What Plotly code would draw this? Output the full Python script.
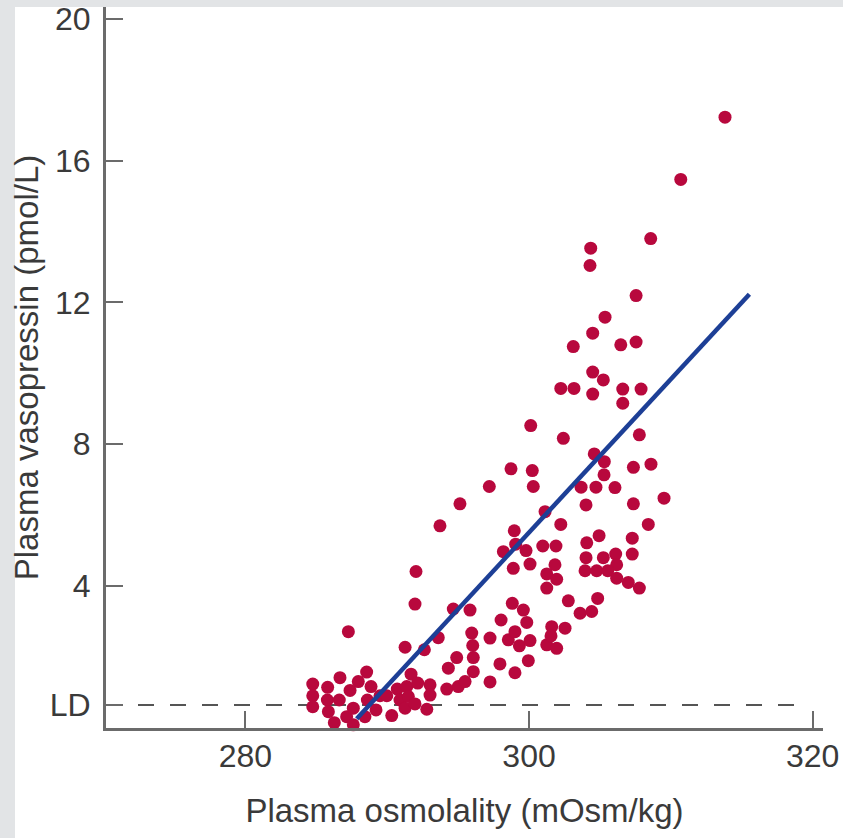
import plotly.graph_objects as go

# Plasma osmolality (mOsm/kg) and plasma vasopressin (pmol/L)
osmolality = [
    284.75, 284.75, 284.75, 285.80, 285.78, 285.85, 286.27, 286.62, 286.67, 287.14,
    287.38, 287.61, 287.61, 287.96, 288.43, 288.55, 288.60, 288.86, 289.21, 289.49,
    289.97, 290.32, 290.71, 290.90, 291.26, 291.38, 291.49, 291.68, 291.96, 292.15,
    292.79, 293.02, 293.02, 287.26, 291.26, 292.62, 291.96, 292.03, 293.72, 295.13,
    297.20, 293.60, 294.31, 294.20, 295.01, 295.49, 294.90, 294.66, 295.84, 295.96,
    296.03, 296.07, 296.07, 297.25, 297.25, 297.95, 298.03, 298.54, 298.82, 299.01,
    299.01, 299.32, 299.60, 299.84, 299.95, 300.07, 301.25, 301.60, 301.95, 304.02,
    307.36, 301.13, 298.96, 302.24, 308.41, 304.94, 307.28, 304.07, 298.19, 299.06,
    299.79, 300.97, 301.90, 304.02, 305.24, 306.11, 307.28, 298.89, 300.07, 301.83,
    306.18, 303.95, 304.77, 305.55, 301.25, 301.95, 306.18, 307.00, 307.78, 301.25,
    302.77, 304.84, 303.60, 304.42, 302.54, 301.55, 300.12, 298.73, 300.23, 300.30,
    305.36, 304.49, 303.12, 306.47, 307.55, 304.49, 305.24, 302.24, 303.17, 304.49,
    306.61, 307.90, 306.61, 302.42, 307.78, 304.60, 305.31, 307.36, 308.60, 305.29,
    303.67, 304.72, 306.06, 309.52, 313.82, 310.70, 308.58, 304.35, 304.30, 307.55,
]
vasopressin = [
    1.22, 0.89, 0.58, 1.13, 0.77, 0.44, 0.13, 0.77, 1.40, 0.30,
    1.04, 0.54, 0.07, 1.29, 0.30, 1.56, 0.77, 1.15, 0.49, 0.89,
    0.89, 0.33, 1.08, 0.77, 0.54, 1.15, 0.87, 1.50, 0.66, 1.25,
    0.51, 1.20, 0.91, 2.70, 2.26, 2.19, 3.48, 4.40, 5.69, 6.31,
    6.80, 2.53, 1.67, 1.08, 1.15, 1.29, 1.97, 3.34, 3.31, 2.66,
    2.31, 1.97, 1.57, 1.28, 2.52, 1.79, 3.03, 2.47, 3.50, 2.70,
    1.54, 2.30, 3.31, 2.96, 1.88, 2.45, 2.33, 2.84, 2.23, 6.28,
    6.31, 6.09, 5.55, 5.73, 5.73, 5.41, 5.34, 5.21, 4.96, 5.17,
    4.99, 5.12, 5.12, 4.79, 4.79, 4.89, 4.89, 4.49, 4.61, 4.59,
    4.59, 4.42, 4.42, 4.42, 4.33, 4.18, 4.21, 4.09, 3.93, 3.93,
    3.57, 3.64, 3.22, 3.27, 2.80, 2.58, 8.52, 7.30, 7.25, 6.80,
    11.58, 11.13, 10.75, 10.80, 10.88, 10.03, 9.81, 9.57, 9.57, 9.41,
    9.55, 9.55, 9.15, 8.16, 8.26, 7.72, 7.50, 7.34, 7.43, 7.13,
    6.78, 6.78, 6.77, 6.47, 17.23, 15.47, 13.80, 13.53, 13.04, 12.19,
]

# Regression line end points
line_x = [287.85, 315.54]
line_y = [0.24, 12.23]

# Limit of detection
ld_value = 0.63
ld_x = [270.17, 319.7]

x_tickvals = [280, 300, 320]
x_ticktext = ["280", "300", "320"]
y_tickvals = [ld_value, 4, 8, 12, 16, 20]
y_ticktext = ["LD", "4", "8", "12", "16", "20"]

x_title = "Plasma osmolality (mOsm/kg)"
y_title = "Plasma vasopressin (pmol/L)"

FONT = "Liberation Sans, Arial, Helvetica, sans-serif"
TEXT = "#3a3a3a"
AXIS = "#6b6b6b"
GRAYBG = "#e2e4e6"

fig = go.Figure()

fig.add_trace(go.Scatter(
    x=ld_x, y=[ld_value, ld_value], mode="lines",
    line=dict(color="#555555", width=2, dash="16px,16px"),
    hoverinfo="skip", showlegend=False,
))

fig.add_trace(go.Scatter(
    x=osmolality, y=vasopressin, mode="markers",
    marker=dict(color="#b8083d", size=13, line=dict(width=0)),
    cliponaxis=False, showlegend=False,
))

fig.add_trace(go.Scatter(
    x=line_x, y=line_y, mode="lines",
    line=dict(color="#1d3f96", width=4.5),
    showlegend=False,
))

W, H = 843, 838
L, R, T, B = 106, 20, 7, 110
pw, ph = W - L - R, H - T - B

def px2paper_x(px):
    return (px - L) / pw

def px2paper_y(py):
    return (H - B - py) / ph

shapes = [
    dict(type="rect", xref="paper", yref="paper",
         x0=px2paper_x(0), x1=px2paper_x(15), y0=px2paper_y(H), y1=px2paper_y(0),
         fillcolor=GRAYBG, line=dict(width=0), layer="below"),
    dict(type="rect", xref="paper", yref="paper",
         x0=px2paper_x(0), x1=px2paper_x(W), y0=px2paper_y(7), y1=px2paper_y(0),
         fillcolor=GRAYBG, line=dict(width=0), layer="below"),
]

fig.update_layout(
    width=W, height=H,
    margin=dict(l=L, r=R, t=T, b=B, pad=0),
    paper_bgcolor="white", plot_bgcolor="white",
    font=dict(family=FONT, size=32, color=TEXT),
    shapes=shapes,
    xaxis=dict(
        range=[270.17, 320.73], showgrid=False, zeroline=False,
        showline=True, linecolor=AXIS, linewidth=3,
        ticks="inside", ticklen=17, tickwidth=2, tickcolor=AXIS,
        tickvals=x_tickvals, ticktext=x_ticktext,
        tickfont=dict(size=32, color=TEXT),
        ticklabelstandoff=-2,
        title=dict(text=x_title, font=dict(size=33, color=TEXT), standoff=26),
        automargin=False,
    ),
    yaxis=dict(
        range=[-0.02, 20.34], showgrid=False, zeroline=False,
        showline=True, linecolor=AXIS, linewidth=3,
        ticks="inside", ticklen=17, tickwidth=2, tickcolor=AXIS,
        tickvals=y_tickvals, ticktext=y_ticktext,
        tickfont=dict(size=32, color=TEXT),
        ticklabelstandoff=6,
        title=dict(text=y_title, font=dict(size=33, color=TEXT), standoff=2),
        automargin=False,
    ),
)

fig.write_html("out.html", config={"displayModeBar": False},
               post_script="document.body.style.margin='0';")
